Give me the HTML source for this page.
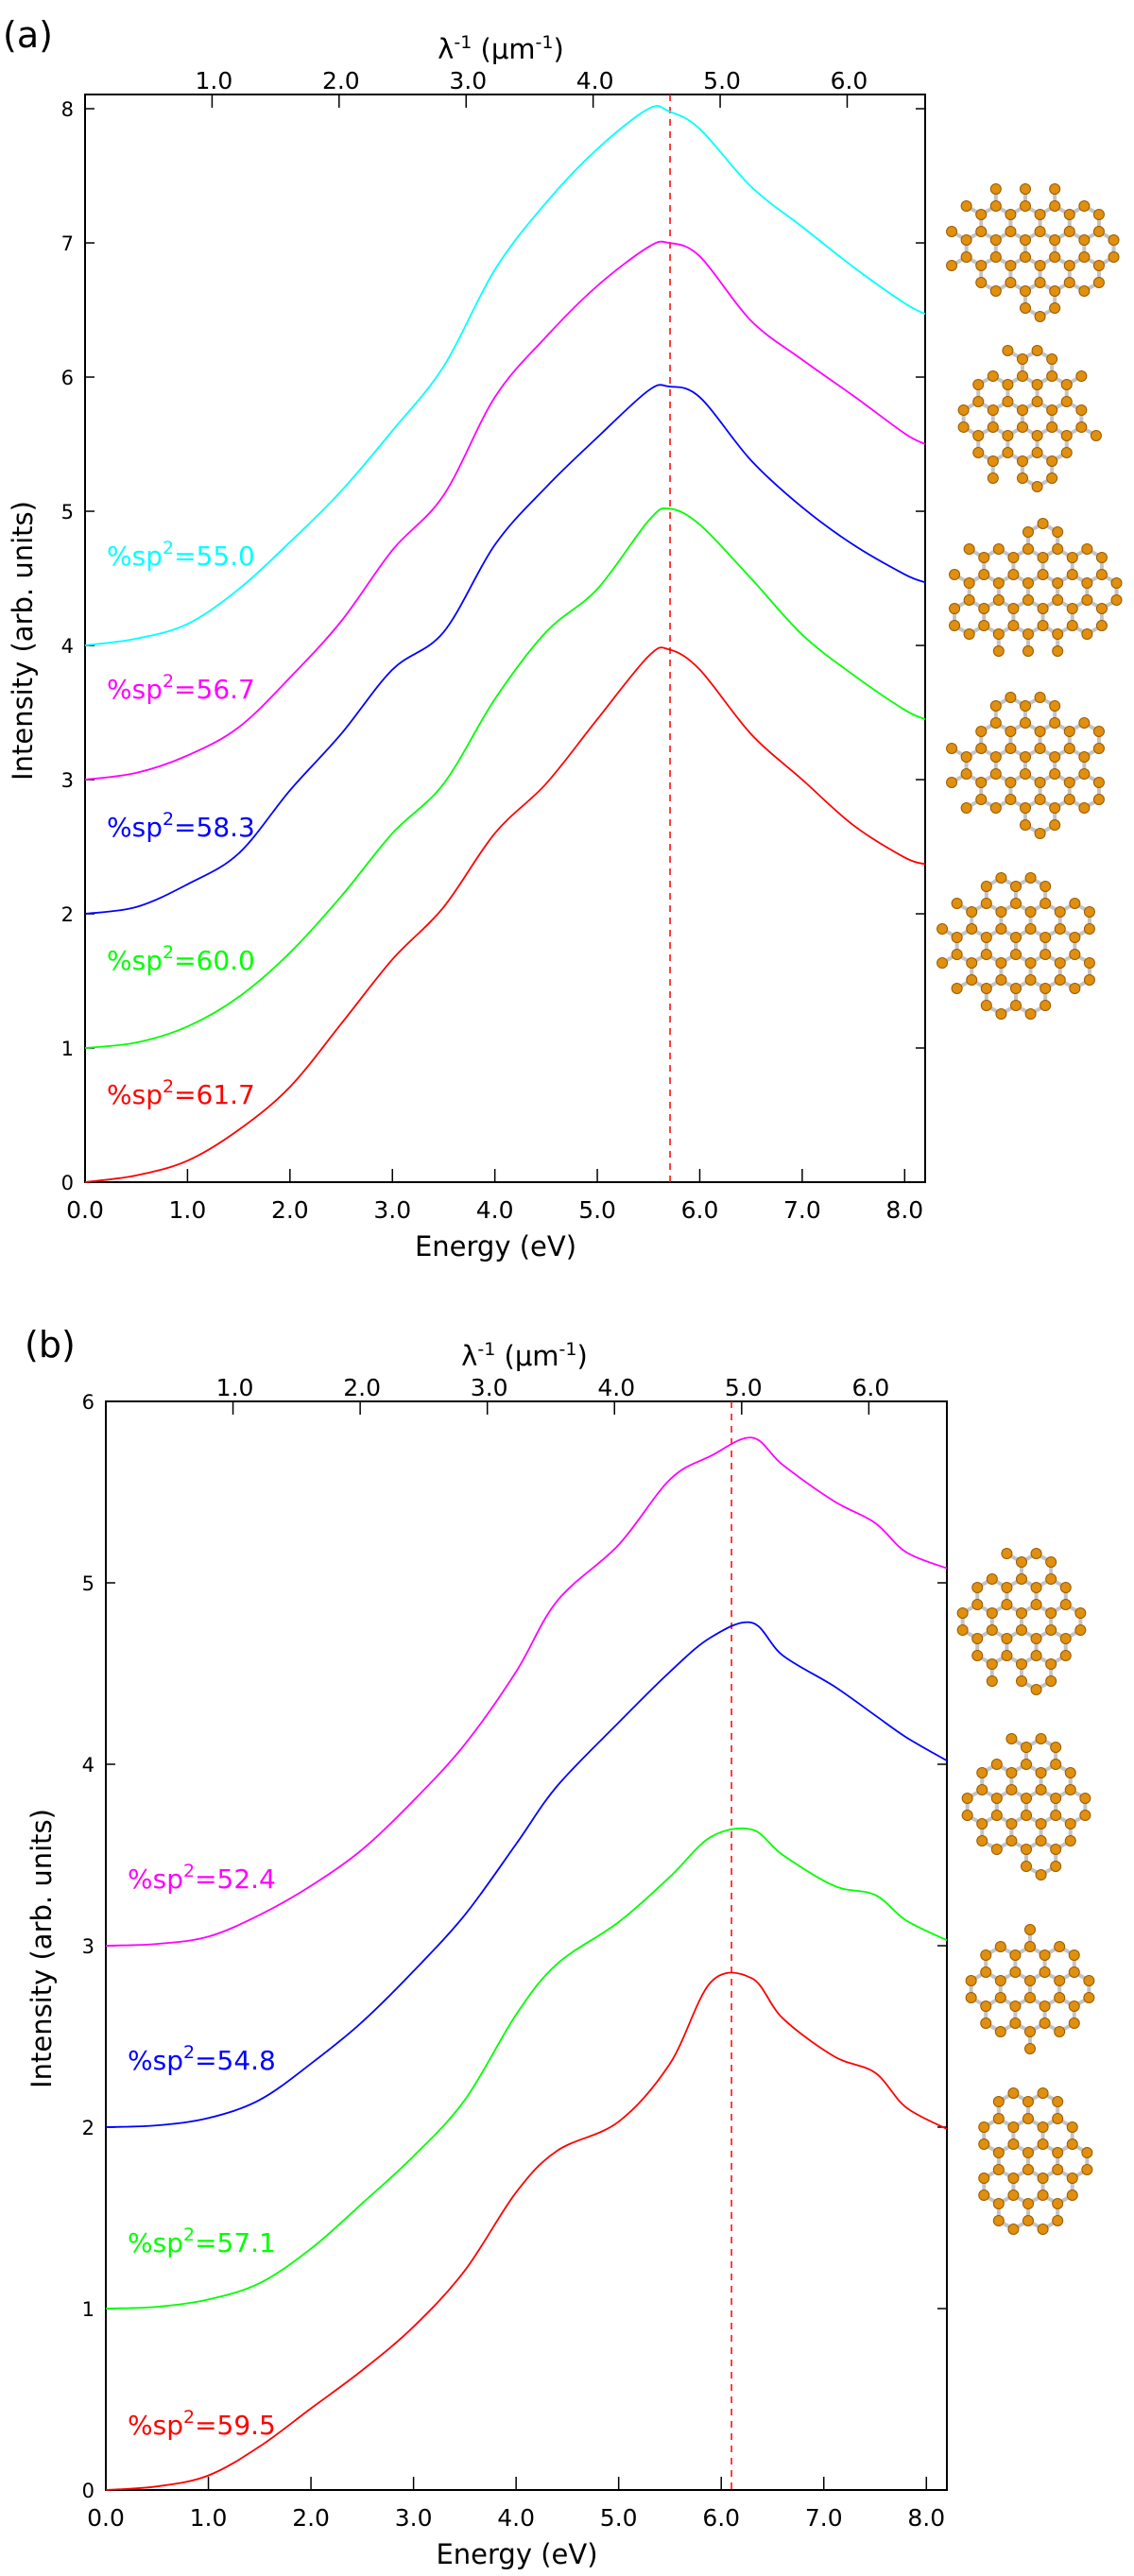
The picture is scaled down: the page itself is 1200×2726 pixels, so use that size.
<!DOCTYPE html>
<html><head><meta charset="utf-8"><style>
html,body{margin:0;padding:0;background:#fff;}
svg{display:block;font-family:"DejaVu Sans","Liberation Sans",sans-serif;}
</style></head><body>
<svg id="fig" width="1200" height="2726" viewBox="0 0 1200 2726" xmlns="http://www.w3.org/2000/svg"></svg>
<script>
// ---- Panel (a) data ----
const energyA = [0,0.5,1,1.5,2,2.5,3,3.5,4,4.5,5,5.5,5.7,6,6.5,7,7.5,8,8.2];
const redA     = [0,0.05,0.16,0.39,0.71,1.18,1.66,2.05,2.6,2.97,3.45,3.92,3.97,3.82,3.34,3.0,2.66,2.42,2.37];
const greenA   = [1,1.04,1.16,1.38,1.71,2.13,2.6,2.97,3.6,4.1,4.42,4.93,5.02,4.9,4.5,4.08,3.78,3.52,3.45];
const blueA    = [2,2.05,2.22,2.45,2.92,3.34,3.82,4.1,4.75,5.18,5.55,5.9,5.93,5.85,5.38,5.03,4.75,4.53,4.47];
const magentaA = [3,3.05,3.18,3.39,3.76,4.18,4.71,5.12,5.85,6.3,6.68,6.97,7.0,6.9,6.42,6.13,5.86,5.58,5.5];
const cyanA    = [4,4.05,4.16,4.42,4.77,5.15,5.6,6.08,6.8,7.3,7.7,8.0,7.98,7.85,7.42,7.12,6.82,6.55,6.47];
const labelsA  = ["61.7","60.0","58.3","56.7","55.0"];
const peakA = 5.71;
// ---- Panel (b) data ----
const energyB = [0,0.5,1,1.5,2,2.5,3,3.5,4,4.4,5,5.5,5.9,6.3,6.6,7.1,7.5,7.8,8.2];
const redB     = [0,0.02,0.08,0.24,0.45,0.66,0.9,1.21,1.64,1.87,2.03,2.35,2.8,2.82,2.6,2.39,2.3,2.11,1.99];
const greenB   = [1,1.01,1.05,1.14,1.33,1.58,1.84,2.15,2.62,2.9,3.13,3.38,3.6,3.64,3.5,3.33,3.28,3.14,3.03];
const blueB    = [2,2.01,2.05,2.15,2.35,2.58,2.86,3.17,3.56,3.88,4.23,4.51,4.7,4.78,4.6,4.43,4.27,4.15,4.02];
const magentaB = [3,3.01,3.05,3.17,3.33,3.53,3.8,4.11,4.51,4.9,5.21,5.57,5.7,5.8,5.65,5.45,5.33,5.17,5.08];
const labelsB  = ["59.5","57.1","54.8","52.4"];
const peakB = 6.1;
const xTickLabels = ["0.0","1.0","2.0","3.0","4.0","5.0","6.0","7.0","8.0"];
const lamTickLabels = ["1.0","2.0","3.0","4.0","5.0","6.0"];

const NS="http://www.w3.org/2000/svg";
const fig=document.getElementById('fig');
function mk(tag,attrs,parent){const e=document.createElementNS(NS,tag);for(const k in attrs)e.setAttribute(k,attrs[k]);(parent||fig).appendChild(e);return e;}
function smooth(pts){let d='M'+pts[0][0]+','+pts[0][1];for(let i=0;i<pts.length-1;i++){const p0=pts[Math.max(i-1,0)],p1=pts[i],p2=pts[i+1],p3=pts[Math.min(i+2,pts.length-1)];const c1=[p1[0]+(p2[0]-p0[0])/6,p1[1]+(p2[1]-p0[1])/6],c2=[p2[0]-(p3[0]-p1[0])/6,p2[1]-(p3[1]-p1[1])/6];d+=` C${c1[0].toFixed(1)},${c1[1].toFixed(1)} ${c2[0].toFixed(1)},${c2[1].toFixed(1)} ${p2[0].toFixed(1)},${p2[1].toFixed(1)}`;}return d;}

function molecule(g,cx,cy,rx,ry,seed){
  const a=18,pts=[];
  for(let i=-9;i<=9;i++)for(let j=-9;j<=9;j++){
    const bx=cx+a*Math.sqrt(3)*(i+j/2), by=cy+a*1.5*j;
    for(const off of [[0,-a/2],[0,a/2]]){
      const x=bx+off[0],y=by+off[1];
      const dx=(x-cx)/rx,dy=(y-cy)/ry;
      if(dx*dx+dy*dy<=1+((i*7+j*3+seed)%5)*0.04)pts.push([x,y]);
    }}
  for(let i=0;i<pts.length;i++)for(let k=i+1;k<pts.length;k++){
    const d=Math.hypot(pts[i][0]-pts[k][0],pts[i][1]-pts[k][1]);
    if(d<a*1.05){mk('line',{x1:pts[i][0],y1:pts[i][1],x2:pts[k][0],y2:pts[k][1],stroke:'#c4c4c4','stroke-width':4},g);}
  }
  for(const p of pts){mk('circle',{cx:p[0],cy:p[1],r:5.5,fill:'#e0900e',stroke:'#9a5a00','stroke-width':1},g);}
}

function panel(o){
  const X=e=>o.x0+(e/o.xmax)*(o.x1-o.x0);
  const Y=v=>o.y0-(v/o.ymax)*(o.y0-o.y1);
  const g=mk('g',{});
  
  
  const pl=mk('text',{x:o.letterX,y:o.letterY,'font-size':38,fill:'#000'},g);pl.textContent=o.letter;
  
  
  const fr=mk('rect',{x:o.x0,y:o.y1,width:o.x1-o.x0,height:o.y0-o.y1,fill:'none',stroke:'#000','stroke-width':2},g);
  
  
  xTickLabels.forEach((t,i)=>{const x=X(i);
    mk('line',{x1:x,y1:o.y0,x2:x,y2:o.y0-14,stroke:'#000','stroke-width':1.5},g);
    const tl=mk('text',{x:x,y:o.y0+38,'font-size':25,'text-anchor':'middle'},g);tl.textContent=t;
    
    
  });
  const xt=mk('text',{x:(o.x0+o.x1)/2-10,y:o.y0+78,'font-size':29,'text-anchor':'middle'},g);xt.textContent='Energy (eV)';
  
  
  lamTickLabels.forEach((t,i)=>{const x=X((i+1)*1.2398);
    mk('line',{x1:x,y1:o.y1,x2:x,y2:o.y1+14,stroke:'#000','stroke-width':1.5},g);
    const tl=mk('text',{x:x+2,y:o.y1-6,'font-size':25,'text-anchor':'middle'},g);tl.textContent=t;
    
    
  });
  const lt=mk('text',{x:o.lamX,y:o.lamY,'font-size':29,'text-anchor':'middle'},g);
  lt.innerHTML='λ<tspan dy="-11" font-size="19">-1</tspan><tspan dy="11"> (μm</tspan><tspan dy="-11" font-size="19">-1</tspan><tspan dy="11">)</tspan>';
  
  
  for(let v=0;v<=o.ymaxTick;v++){const y=Y(v);
    mk('line',{x1:o.x0,y1:y,x2:o.x0+10,y2:y,stroke:'#000','stroke-width':1.5},g);
    mk('line',{x1:o.x1,y1:y,x2:o.x1-10,y2:y,stroke:'#000','stroke-width':1.5},g);
    const tl=mk('text',{x:o.x0-12,y:y+8,'font-size':21,'text-anchor':'end'},g);tl.textContent=v;
    
    
  }
  const yt=mk('text',{x:0,y:0,'font-size':29,'text-anchor':'middle',transform:`translate(${o.ytX},${o.ytY}) rotate(-90)`},g);yt.textContent='Intensity (arb. units)';
  
  
  const pk=mk('line',{x1:X(o.peak),y1:o.y1,x2:X(o.peak),y2:o.y0,stroke:'#f00','stroke-width':1.5,'stroke-dasharray':'7,6'},g);
  
  
  o.series.forEach((s,i)=>{
    const p=mk('path',{d:smooth(o.energy.map((e,k)=>[X(e),Y(s.v[k])])),fill:'none',stroke:s.c,'stroke-width':1.8},g);
    
    
    const t=mk('text',{x:o.labX,y:o.labY[i]+11,'font-size':28,fill:s.c},g);
    t.innerHTML='%sp<tspan dy="-12" font-size="19">2</tspan><tspan dy="12">='+o.labels[i]+'</tspan>';
    
    
  });
  o.mols.forEach((m,i)=>{const mg=mk('g',{},g);
    
    
    molecule(mg,m[0],m[1],m[2],m[3],i+o.seed);});
}

panel({name:'panel-a',letter:'(a)',letterX:3,letterY:50,x0:90,x1:979,xmax:8.2,y0:1251,y1:100,ymax:8.106,ymaxTick:8,
  lamX:530,lamY:62,ytX:34,ytY:678,peak:peakA,energy:energyA,labels:labelsA,labX:113,
  labY:[1157,1015,874,728,587],
  series:[{c:'#ff0000',v:redA},{c:'#00ff00',v:greenA},{c:'#0000ff',v:blueA},{c:'#ff00ff',v:magentaA},{c:'#00ffff',v:cyanA}],
  mols:[[1085,263,92,70],[1082,443,78,74],[1088,626,94,70],[1085,810,90,74],[1075,1001,88,76]],seed:1});
panel({name:'panel-b',letter:'(b)',letterX:26,letterY:1436,x0:112,x1:1002,xmax:8.2,y0:2635,y1:1483,ymax:6,ymaxTick:6,
  lamX:555,lamY:1445,ytX:54,ytY:2062,peak:peakB,energy:energyB,labels:labelsB,labX:135,
  labY:[2565,2372,2179,1987],
  series:[{c:'#ff0000',v:redB},{c:'#00ff00',v:greenB},{c:'#0000ff',v:blueB},{c:'#ff00ff',v:magentaB}],
  mols:[[1081,1716,66,76],[1086,1912,66,74],[1090,2105,70,64],[1088,2287,66,76]],seed:3});
</script>
</body></html>
